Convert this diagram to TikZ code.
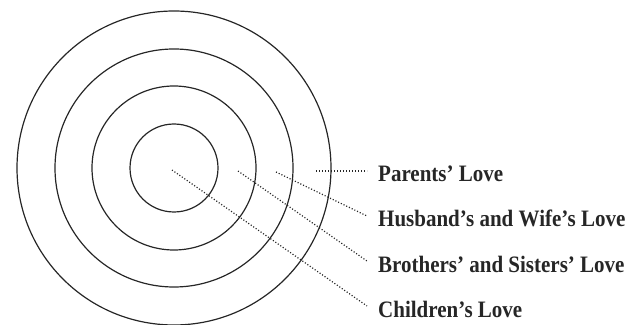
\documentclass[tikz,border=0pt]{standalone}
\usepackage{fontspec}
\setmainfont{Liberation Serif}
\usetikzlibrary{calc}

\begin{document}
\begin{tikzpicture}[x=1pt,y=1pt,
    ring/.style={draw=black!85, line width=1.2pt},
    dots/.style={black!85, line width=1.2pt, dash pattern=on 1.1pt off 1.9pt},
    lbl/.style={anchor=base west, inner sep=0pt, yscale=1.12, font=\fontsize{21}{25}\selectfont\bfseries, text=black!85}]
    \useasboundingbox (0,0) rectangle (629,324);

    % Rings of love
    \coordinate (o) at (174,156);
    \foreach \r in {44,82,119,157}
        \draw[ring] (o) circle (\r pt);

    % Labels
    \node[lbl] (parents)  at (378,142) {Parents’ Love};
    \node[lbl] (husband)  at (378,97)  {Husband’s and Wife’s Love};
    \node[lbl] (brothers) at (378,52)  {Brothers’ and Sisters’ Love};
    \node[lbl] (children) at (378,7)   {Children’s Love};

    % Start of each pointer, one per ring
    \coordinate (sp) at (316,153);
    \coordinate (sh) at (276,152);
    \coordinate (sb) at (238,153);
    \coordinate (sc) at (172,154);

    \foreach \s/\t in {sp/parents, sh/husband, sb/brothers, sc/children}
        \draw[dots] (\s) -- ([shift={(-11pt,11pt)}]\t.base west);
\end{tikzpicture}
\end{document}
